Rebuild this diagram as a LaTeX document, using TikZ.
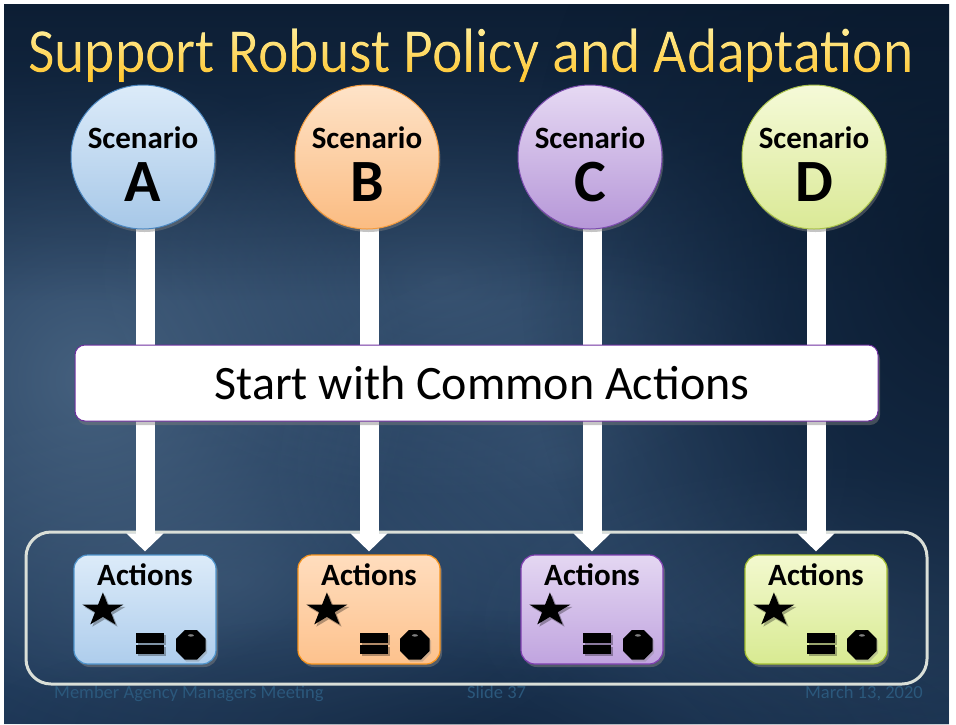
\documentclass[tikz,border=0pt]{standalone}
\usepackage{fontspec}
\setmainfont{Carlito}
\usetikzlibrary{arrows.meta,shapes.geometric,shadows,fadings}
\definecolor{bgbase}{HTML}{1D3757}
\definecolor{bgdark}{HTML}{08172A}
\definecolor{bglight}{HTML}{56728F}
\definecolor{titletop}{HTML}{FFF6B0}
\definecolor{titlebot}{HTML}{FFBA10}
\definecolor{footcol}{HTML}{2B587C}
\definecolor{grpline}{HTML}{DADFD8}
\definecolor{commonbd}{HTML}{7030A0}
% circle colours
\definecolor{ctA}{HTML}{DCEBF9}\definecolor{cbA}{HTML}{A7C8E8}\definecolor{cdA}{HTML}{4A86C0}
\definecolor{ctB}{HTML}{FEE3C8}\definecolor{cbB}{HTML}{FBBC82}\definecolor{cdB}{HTML}{F39A3D}
\definecolor{ctC}{HTML}{E6D9F3}\definecolor{cbC}{HTML}{B697D8}\definecolor{cdC}{HTML}{7B4BAE}
\definecolor{ctD}{HTML}{F5FAD8}\definecolor{cbD}{HTML}{DAE996}\definecolor{cdD}{HTML}{A9C24A}
% action box colours
\definecolor{atA}{HTML}{DCEBF9}\definecolor{abA}{HTML}{AECDEC}\definecolor{adA}{HTML}{4F94CC}
\definecolor{atB}{HTML}{FFDDBE}\definecolor{abB}{HTML}{FDC28D}\definecolor{adB}{HTML}{F7941D}
\definecolor{atC}{HTML}{E4D7F2}\definecolor{abC}{HTML}{C0A4DF}\definecolor{adC}{HTML}{7F3FB0}
\definecolor{atD}{HTML}{F3F9CF}\definecolor{abD}{HTML}{D8EA92}\definecolor{adD}{HTML}{A3BE30}
\tikzfading[name=softblob, inner color=transparent!0, outer color=transparent!100]
\tikzfading[name=fadedown, top color=transparent!0, bottom color=transparent!100]
\newcommand{\titletext}{Support Robust Policy and Adaptation}
\newcommand{\titlefont}{\fontsize{63}{63}\selectfont}
\begin{tikzfadingfrompicture}[name=titlefade]
\node[text=transparent!0, inner sep=0pt, xscale=.915, font=\titlefont] at (0,0) {\titletext};
\end{tikzfadingfrompicture}
\begin{document}
\begin{tikzpicture}[x=1pt,y=-1pt,
  scen/.style={circle, minimum size=144pt, inner sep=0pt, line width=1pt,
    drop shadow={shadow xshift=1.5pt, shadow yshift=-3pt, opacity=.45}},
  actbox/.style={rounded corners=14pt, minimum width=142pt, minimum height=109pt,
    inner sep=0pt, line width=1.2pt,
    drop shadow={shadow xshift=2pt, shadow yshift=-3pt, opacity=.5}},
  commonbox/.style={rounded corners=10pt, minimum width=803pt, minimum height=76pt,
    inner sep=0pt, draw=commonbd, line width=1pt, fill=white,
    drop shadow={shadow xshift=2pt, shadow yshift=-4pt, opacity=.45}},
  grpbox/.style={rounded corners=25pt, minimum width=901pt, minimum height=152pt,
    inner sep=0pt, draw=grpline, line width=3pt},
  conn/.style={draw=white, line width=19pt, -{Triangle[width=36pt,length=18pt]}, shorten >=3pt},
  scentxt/.style={anchor=base, font=\bfseries\fontsize{31}{31}\selectfont},
  lettxt/.style={anchor=base, font=\bfseries\fontsize{60}{60}\selectfont},
  acttxt/.style={anchor=base, font=\bfseries\fontsize{31}{31}\selectfont},
  foot/.style={text=footcol, font=\fontsize{18.5}{18.5}\selectfont, inner sep=0pt}
]
\useasboundingbox (0,0) rectangle (956,724);
% ---------- background ----------
\fill[white] (0,0) rectangle (956,724);
\begin{scope}
\clip (4,4) rectangle (949,724);
\fill[bgbase] (4,4) rectangle (949,724);
\fill[bglight, opacity=.7, path fading=softblob] (90,380) ellipse (320 and 320);
\fill[bglight, opacity=.45, path fading=softblob] (440,280) ellipse (360 and 220);
\fill[bglight, opacity=.35, path fading=softblob] (560,460) ellipse (300 and 220);
\fill[bglight, opacity=.35, path fading=softblob] (230,580) ellipse (400 and 200);
\fill[bglight, opacity=.3, path fading=softblob] (820,620) ellipse (360 and 160);
\fill[bgdark, opacity=.95, path fading=fadedown] (-20,-60) rectangle (980,300);
\fill[bgdark, opacity=.85, path fading=softblob] (960,260) ellipse (440 and 560);
\fill[bgdark, opacity=.4, path fading=softblob] (470,730) ellipse (500 and 120);
\end{scope}
% ---------- title ----------
\node[anchor=base west, inner sep=0pt, text opacity=0, xscale=.915,
  font=\titlefont] (title) at (28,72) {\titletext};
\shade[path fading=titlefade, fit fading=false, fading transform={shift={(title.center)}},
  top color=titletop, bottom color=titlebot]
  ([xshift=-470pt,yshift=-40pt]title.center) rectangle ([xshift=470pt,yshift=40pt]title.center);
% ---------- footer ----------
\node[foot, anchor=base west] (f1) at (54,698) {Member Agency Managers Meeting};
\node[foot, anchor=base west] (f2) at (467,698) {Slide 37};
\node[foot, anchor=base east] (f3) at (923,698) {March 13, 2020};
% ---------- group frame ----------
\node[grpbox] (grp) at (476.5,608) {};
% ---------- action boxes and scenario circles ----------
\foreach \n/\cx/\bx in {A/143/145, B/367/369, C/590/592, D/814/816}{
  \node[actbox, draw=ad\n, top color=at\n, bottom color=ab\n] (act\n) at (\bx,609.5) {};
  \coordinate (cc\n) at (\cx,157);
}
% connectors from each scenario to its action box (circles drawn on top)
\foreach \n in {A,B,C,D}{
  \draw[conn] (act\n.north |- cc\n) -- (act\n.north);
}
\foreach \n/\cx in {A/143, B/367, C/590, D/814}{
  \node[scen, draw=cd\n, top color=ct\n, bottom color=cb\n] (sc\n) at (cc\n) {};
  \node[scentxt] (st\n) at (\cx,148) {Scenario};
  \node[lettxt] (lt\n) at (\cx,201) {\n};
}
% ---------- common box ----------
\node[commonbox] (common) at (476.5,383) {};
\node[anchor=base, inner sep=0pt, font=\fontsize{48}{48}\selectfont] (commontxt) at (482,399) {Start with Common Actions};
% ---------- action box contents ----------
\foreach \n in {A,B,C,D}{
  \node[acttxt] (at\n) at (act\n.north |- 0,585) {Actions};
  \begin{scope}[shift={(act\n.north west)}]
    \fill[black, opacity=.3, shift={(31.5,58)}, xscale=21.5, yscale=17.7]
      (-90:1) -- (-54:.382) -- (-18:1) -- (18:.382) -- (54:1) -- (90:.382)
      -- (126:1) -- (162:.382) -- (198:1) -- (234:.382) -- cycle;
    \fill[black, shift={(29.5,55.7)}, xscale=21.5, yscale=17.7]
      (-90:1) -- (-54:.382) -- (-18:1) -- (18:.382) -- (54:1) -- (90:.382)
      -- (126:1) -- (162:.382) -- (198:1) -- (234:.382) -- cycle;
    \fill[black, opacity=.3] (65,81) rectangle (93,91);
    \fill[black, opacity=.3] (65,93) rectangle (93,102);
    \fill[black] (63,79) rectangle (91,89);
    \fill[black] (63,91) rectangle (91,100);
    \node[regular polygon, regular polygon sides=8, minimum size=32pt, inner sep=0pt,
      fill=black, drop shadow={shadow xshift=1.5pt, shadow yshift=-2pt, opacity=.35}] (oct\n) at (117.5,90.5) {};
    \fill[white, opacity=.5] (117.5,81) ellipse (3 and 1.2);
  \end{scope}
}
\end{tikzpicture}
\end{document}
